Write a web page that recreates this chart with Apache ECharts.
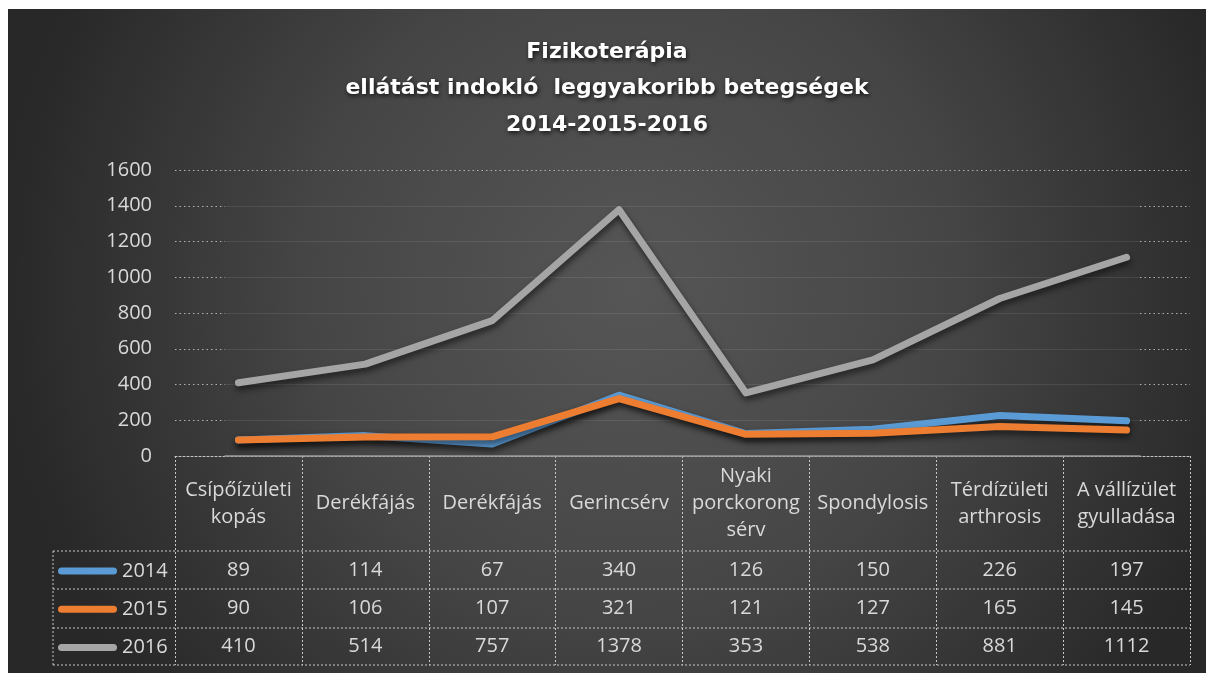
<!DOCTYPE html>
<html>
<head>
<meta charset="utf-8">
<title>Fizikoterápia</title>
<script src="https://cdn.jsdelivr.net/npm/echarts@6/dist/echarts.min.js"></script>
<style>
  html, body { margin: 0; padding: 0; background: #fff; }
  #chart { position: absolute; left: 8px; top: 9px; width: 1198px; height: 664px; }
</style>
</head>
<body>
<div id="chart"></div>
<script>
// adatok
var titleLines = ['Fizikoterápia', 'ellátást indokló  leggyakoribb betegségek', '2014-2015-2016'];
var categories = ['Csípőízületi\nkopás', 'Derékfájás', 'Derékfájás', 'Gerincsérv',
                  'Nyaki\nporckorong\nsérv', 'Spondylosis', 'Térdízületi\narthrosis', 'A vállízület\ngyulladása'];
var seriesNames = ['2014', '2015', '2016'];
var values2014 = [89, 114, 67, 340, 126, 150, 226, 197];
var values2015 = [90, 106, 107, 321, 121, 127, 165, 145];
var values2016 = [410, 514, 757, 1378, 353, 538, 881, 1112];
var yMin = 0, yMax = 1600, yStep = 200;

var colors = ['#5b9bd5', '#ed7d31', '#a5a5a5'];
var allValues = [values2014, values2015, values2016];

// elrendezés (a chart div koordinátáiban)
var plotLeft = 167, plotRight = 1182, plotTop = 161, plotBottom = 447;
var innerLeft = 217, innerRight = 1132;
var rowLines = [542, 580, 619, 656];   // táblázat vízszintes vonalai
var tableLeft = 45;
var W = 1198;

var txt = '#d9d9d9';
var font = 'Open Sans';
var dash = [2, 2];
var dots = [1.5, 3];
var borderColor = '#c8c8c8';
var dotColor = '#b0b0b0';

var myChart = echarts.init(document.getElementById('chart'));

function hiddenX(gi, z) {
    return { gridIndex: gi, type: 'value', min: 0, max: 1, z: z || 0,
             axisLine: { show: false }, axisTick: { show: false },
             axisLabel: { show: false }, splitLine: { show: false } };
}
function yBase(gi, extra) {
    var a = { gridIndex: gi, type: 'value', min: yMin, max: yMax, interval: yStep,
              axisLine: { show: false }, axisTick: { show: false },
              axisLabel: { show: false }, splitLine: { show: false } };
    for (var key in extra) a[key] = extra[key];
    return a;
}

// 0: fő rács (vonalak + táblázat), 1: belső rács (folytonos rácsvonalak),
// 2, 3: bal és jobb szélső sáv (pontozott rácsvonalak)
var grids = [
    { left: plotLeft, right: W - plotRight, top: plotTop, height: plotBottom - plotTop },
    { left: innerLeft, right: W - innerRight, top: plotTop, height: plotBottom - plotTop },
    { left: plotLeft, right: W - innerLeft, top: plotTop, height: plotBottom - plotTop },
    { left: innerRight, right: W - plotRight, top: plotTop, height: plotBottom - plotTop }
];
grids.forEach(function(g){ g.outerBoundsMode = 'none'; });

var xAxes = [{
    gridIndex: 0,
    type: 'category',
    data: categories,
    boundaryGap: true,
    axisLine: { show: true, lineStyle: { color: borderColor, type: dash, width: 1 } },
    axisTick: { show: true, interval: 0, length: rowLines[3] - plotBottom,
                lineStyle: { color: borderColor, type: dash, width: 1 } },
    axisLabel: { interval: 0, margin: (rowLines[0] - plotBottom) / 2, verticalAlign: 'middle',
                 color: txt, fontSize: 20, lineHeight: 27, fontFamily: font },
    splitLine: { show: false }
}];
// értéksorok a táblázatban
for (var k = 0; k < 3; k++) {
    (function(vals, k){
        xAxes.push({
            gridIndex: 0,
            type: 'category',
            data: categories,
            position: 'bottom',
            offset: (rowLines[k] + rowLines[k + 1]) / 2 - plotBottom,
            axisLine: { show: false },
            axisTick: { show: false },
            axisLabel: { interval: 0, margin: 0, verticalAlign: 'middle', color: txt,
                         fontSize: 20, fontFamily: font,
                         formatter: function(v, i){ return String(vals[i]); } },
            splitLine: { show: false }
        });
    })(allValues[k], k);
}
var innerX = hiddenX(1, 1);
innerX.axisLine = { show: true, onZero: false, lineStyle: { color: '#9a9a9a', width: 1.5 } };
xAxes.push(innerX);
xAxes.push(hiddenX(2));
xAxes.push(hiddenX(3));

var yAxes = [
    yBase(0, { axisLabel: { color: txt, fontSize: 20, margin: 23, fontFamily: font,
                            formatter: function(v){ return String(v); } } }),
    yBase(1, { z: 1, splitLine: { show: true, showMinLine: false, showMaxLine: false,
                                  lineStyle: { color: 'rgba(255,255,255,0.09)', width: 1 } } }),
    yBase(1, { position: 'right', interval: yMax - yMin,
               splitLine: { show: true, showMinLine: false,
                            lineStyle: { color: dotColor, type: dots, width: 1 } } }),
    yBase(2, { splitLine: { show: true, showMinLine: false,
                            lineStyle: { color: dotColor, type: dots, width: 1 } } }),
    yBase(3, { splitLine: { show: true, showMinLine: false,
                            lineStyle: { color: dotColor, type: dots, width: 1 } } })
];

var graphics = [];
for (var r = 0; r < rowLines.length; r++) {
    graphics.push({
        type: 'line', silent: true,
        shape: { x1: tableLeft, y1: rowLines[r], x2: plotRight, y2: rowLines[r] },
        style: { stroke: borderColor, lineWidth: 1, lineDash: dash }
    });
}
graphics.push({
    type: 'line', silent: true,
    shape: { x1: tableLeft, y1: rowLines[0], x2: tableLeft, y2: rowLines[3] },
    style: { stroke: borderColor, lineWidth: 1, lineDash: dash }
});

var series = [];
for (var s = 0; s < 3; s++) {
    series.push({
        name: seriesNames[s],
        type: 'line',
        xAxisIndex: 0, yAxisIndex: 0,
        data: allValues[s],
        symbol: 'none', showSymbol: false,
        color: colors[s],
        lineStyle: { width: 7, color: colors[s], cap: 'round', join: 'round',
                     shadowColor: 'rgba(0,0,0,0.55)', shadowBlur: 6, shadowOffsetY: 4, shadowOffsetX: 1 },
        emphasis: { disabled: true },
        z: 2 + s
    });
}

option = {
    animation: false,
    backgroundColor: {
        type: 'radial', x: 0.52, y: 0.42, r: 0.95,
        colorStops: [
            { offset: 0, color: '#565656' },
            { offset: 0.5, color: '#464646' },
            { offset: 1, color: '#282828' }
        ]
    },
    textStyle: { fontFamily: font },
    title: {
        text: titleLines.join('\n'),
        left: 'center',
        top: 20,
        textStyle: {
            color: '#ffffff', fontFamily: 'DejaVu Sans', fontWeight: 'bold', fontSize: 22, lineHeight: 36.5,
            textShadowColor: 'rgba(0,0,0,0.75)', textShadowBlur: 4, textShadowOffsetX: 1, textShadowOffsetY: 2
        }
    },
    legend: {
        orient: 'vertical',
        left: 50,
        top: 551,
        padding: 0,
        itemGap: 16.3,
        itemWidth: 59,
        itemHeight: 7,
        itemStyle: { borderWidth: 0 },
        icon: 'path://M3.5,0 H55.5 A3.5,3.5 0 0 1 55.5,7 H3.5 A3.5,3.5 0 0 1 3.5,0 Z',
        textStyle: { color: txt, fontSize: 20, lineHeight: 22, fontFamily: font },
        data: seriesNames,
        selectedMode: false
    },
    grid: grids,
    xAxis: xAxes,
    yAxis: yAxes,
    series: series,
    graphic: graphics
};

myChart.setOption(option);
</script>
</body>
</html>
